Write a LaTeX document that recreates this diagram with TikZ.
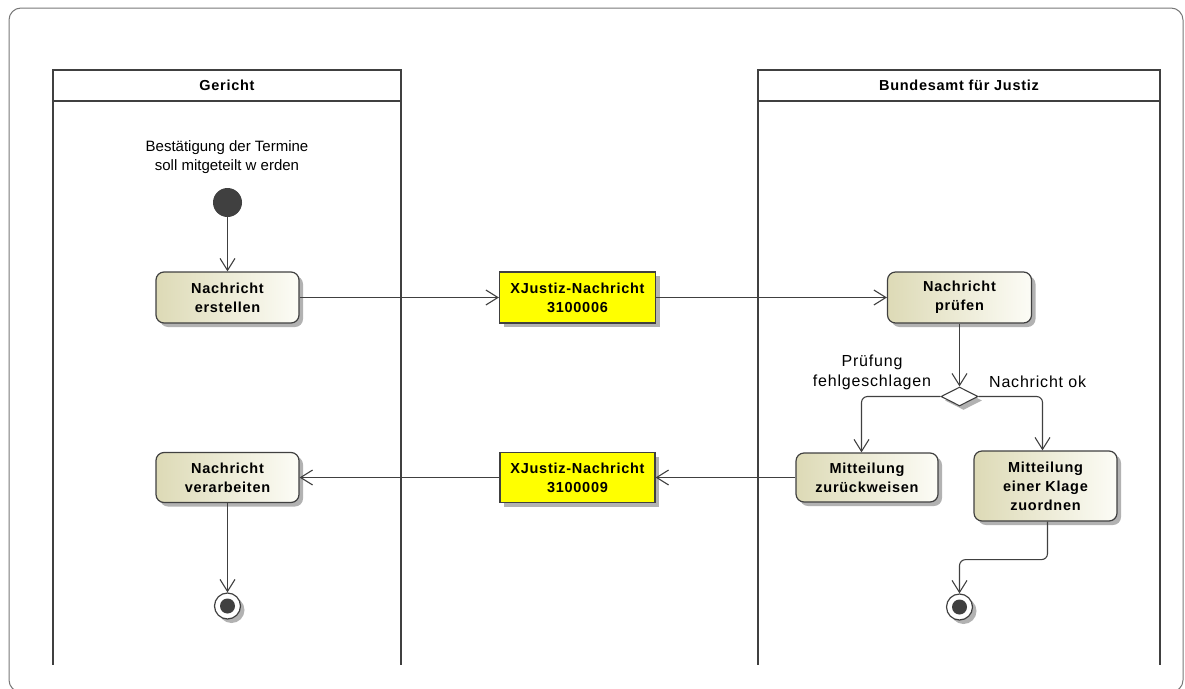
\documentclass[tikz,border=0pt]{standalone}
\usepackage{fontspec}
\setmainfont{Liberation Sans}
\newfontfamily\bsans[LetterSpace=5]{Liberation Sans}
\newfontfamily\lsans[LetterSpace=5]{Liberation Sans}
\usetikzlibrary{arrows.meta,shapes.geometric,shadows,calc}
\definecolor{ln}{RGB}{64,64,64}
\definecolor{beigeL}{RGB}{221,218,182}
\definecolor{beigeR}{RGB}{252,252,246}
\definecolor{framegray}{RGB}{120,120,120}
\definecolor{shadowgray}{RGB}{178,178,178}
\definecolor{objyellow}{RGB}{255,255,0}
\begin{document}
\begin{tikzpicture}[x=1pt,y=-1pt,
  shd/.style={drop shadow={shadow xshift=4pt,shadow yshift=-4pt,fill=shadowgray,opacity=1}},
  act/.style={draw=ln,line width=1.2pt,rounded corners=8pt,left color=beigeL,right color=beigeR,
    align=center,inner sep=0pt,font=\fontsize{14.5}{19}\selectfont\bsans\bfseries,shd},
  obj/.style={draw=ln,line width=1.2pt,fill=objyellow,align=center,inner sep=0pt,
    font=\fontsize{14.5}{19}\selectfont\bsans\bfseries,shd},
  flow/.style={draw=ln,line width=1.1pt,-{Straight Barb[length=12pt,width=15pt,line width=1.1pt]}},
  lane/.style={draw=ln,line width=2.5pt},
  laneheader/.style={draw=ln,line width=2.5pt,fill=white,inner sep=0pt,outer sep=0pt,minimum height=31pt,
    font=\fontsize{14.5}{19}\selectfont\bsans\bfseries},
  lbl/.style={align=center,inner sep=0pt,font=\fontsize{16}{20}\selectfont\lsans},
  startnode/.style={circle,fill=ln,minimum size=29pt,inner sep=0pt},
  endnode/.style={circle,draw=ln,line width=1.2pt,fill=white,minimum size=26pt,inner sep=0pt,shd},
  decision/.style={diamond,draw=ln,line width=1.1pt,fill=white,minimum width=37pt,minimum height=19pt,inner sep=0pt,shd}
]
\useasboundingbox (0,0) rectangle (1185,688);
% outer frame
\draw[framegray,line width=1pt,rounded corners=12pt] (9,8) rectangle (1183,692);

% lanes
\coordinate (g0) at (53,101);
\coordinate (g3) at (401,101);
\coordinate (b0) at (758,101);
\coordinate (b3) at (1160,101);
\coordinate (g1) at (53,665);
\coordinate (g2) at (401,665);
\coordinate (b1) at (758,665);
\coordinate (b2) at (1160,665);
\draw[lane] (g0) -- (g1);
\draw[lane] (g3) -- (g2);
\draw[lane] (b0) -- (b1);
\draw[lane] (b3) -- (b2);
\node[laneheader,minimum width=348pt] (gh) at (227,85.5) {Gericht};
\node[laneheader,minimum width=402pt] (bh) at (959,85.5) {Bundesamt für Justiz};

% note
\node[align=center,inner sep=0pt,font=\fontsize{15}{19}\selectfont] (note) at (227,157)
  {Bestätigung der Termine\\soll mitgeteilt w erden};

% nodes
\node[startnode] (start) at (227.5,202.5) {};
\node[act,minimum width=143pt,minimum height=51pt] (erst) at (227.5,297.5) {Nachricht\\erstellen};
\node[obj,minimum width=156pt,minimum height=51pt] (x6) at (577.5,297.5) {XJustiz-Nachricht\\3100006};
\node[act,minimum width=144pt,minimum height=51pt] (pruef) at (959.5,297.5) {Nachricht\\prüfen};
\node[decision] (dec) at (959.5,396.5) {};
\node[act,minimum width=142pt,minimum height=49pt] (zur) at (867,477.5) {Mitteilung\\zurückweisen};
\node[act,minimum width=143pt,minimum height=70pt] (klage) at (1045.5,486) {Mitteilung\\einer Klage\\zuordnen};
\node[obj,minimum width=155pt,minimum height=50pt] (x9) at (577.5,477.5) {XJustiz-Nachricht\\3100009};
\node[act,minimum width=143pt,minimum height=50pt] (verarb) at (227.5,477.5) {Nachricht\\verarbeiten};
\node[endnode] (end1) at (227.5,606) {};
\fill[ln] (end1.center) circle (7.5pt);
\node[endnode] (end2) at (959.5,607) {};
\fill[ln] (end2.center) circle (7.5pt);

% labels
\node[lbl] (lfail) at (872,372) {Prüfung\\fehlgeschlagen};
\node[lbl,anchor=west] (lok) at (989,382) {Nachricht ok};

% connectors
\draw[flow] (start) -- (erst);
\draw[flow] (erst) -- (x6);
\draw[flow] (x6) -- (pruef);
\draw[flow] (pruef) -- (dec.north);
\draw[flow,rounded corners=6pt] (dec.west) -| ([xshift=-5.5pt]zur.north);
\draw[flow,rounded corners=6pt] (dec.east) -| ([xshift=-3pt]klage.north);
\draw[flow] (zur.west) -- (zur.west -| x9.east);
\draw[flow] (x9.west) -- (x9.west -| verarb.east);
\draw[flow] (verarb) -- (end1);
\draw[flow,rounded corners=6pt] ([xshift=2pt]klage.south) -- ++(0,38) -| (end2.north);
\end{tikzpicture}
\end{document}
